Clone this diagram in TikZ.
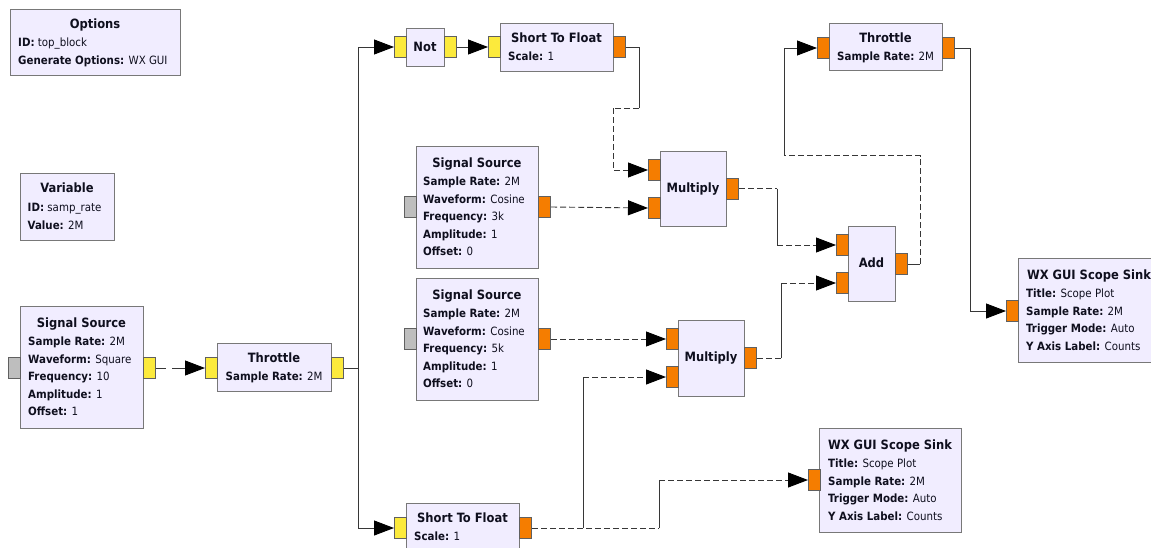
\documentclass[tikz,border=0pt]{standalone}
\usepackage{fontspec}
\setmainfont{DejaVu Sans Condensed}
\usetikzlibrary{arrows.meta}

\definecolor{blkfill}{RGB}{241,237,255}
\definecolor{blkline}{RGB}{120,120,120}
\definecolor{portorange}{RGB}{245,125,0}
\definecolor{portyellow}{RGB}{252,234,60}
\definecolor{portgray}{RGB}{190,190,190}
\definecolor{wirecol}{RGB}{55,55,55}
\definecolor{txtcol}{RGB}{15,15,30}

\tikzset{
  blk/.style={draw=blkline, fill=blkfill, line width=1.2pt, inner sep=0pt, anchor=north west},
  port/.style={draw=blkline!80!black, line width=1pt, inner sep=0pt, minimum width=12pt, minimum height=21pt, anchor=north west},
  oport/.style={port, fill=portorange},
  yport/.style={port, fill=portyellow},
  gport/.style={port, fill=portgray},
  ttl/.style={font=\fontsize{12.8}{14}\selectfont\bfseries, text=txtcol, inner sep=0pt, anchor=base},
  prm/.style={font=\fontsize{11.4}{13}\selectfont, text=txtcol, inner sep=0pt, anchor=base west},
  wire/.style={draw=wirecol, line width=0.9pt},
  dwire/.style={wire, dash pattern=on 6pt off 3pt},
  tip/.style={-{Triangle[length=20pt,width=15pt,color=black]}},
}

\begin{document}
\begin{tikzpicture}[x=1pt,y=-1pt]
\useasboundingbox (0,0) rectangle (1151,547);
\fill[white] (0,0) rectangle (1151,547);
\clip (0,0) rectangle (1151,547);

% Options
\node[blk, minimum width=170pt, minimum height=66pt] (opt) at (10,9) {};
\node[ttl] (opt-t) at (95,28.5) {Options};
\node[prm] (opt-p1) at (18,46.5) {\textbf{ID:} top\_block};
\node[prm] (opt-p2) at (18,64) {\textbf{Generate Options:} WX GUI};

% Variable
\node[blk, minimum width=94pt, minimum height=67pt] (var) at (20,173) {};
\node[ttl] (var-t) at (67,192.5) {Variable};
\node[prm] (var-p1) at (27.5,211.5) {\textbf{ID:} samp\_rate};
\node[prm] (var-p2) at (27.5,229) {\textbf{Value:} 2M};

% Signal Source (square)
\node[blk, minimum width=123pt, minimum height=122pt] (ss1) at (20,306) {};
\node[ttl] (ss1-t) at (81.5,327) {Signal Source};
\node[prm] (ss1-p1) at (28,345.5) {\textbf{Sample Rate:} 2M};
\node[prm] (ss1-p2) at (28,363) {\textbf{Waveform:} Square};
\node[prm] (ss1-p3) at (28,380.5) {\textbf{Frequency:} 10};
\node[prm] (ss1-p4) at (28,398) {\textbf{Amplitude:} 1};
\node[prm] (ss1-p5) at (28,415.5) {\textbf{Offset:} 1};
\node[gport] (ss1-in) at (8,357) {};
\node[yport] (ss1-out) at (143,357) {};

% Throttle
\node[blk, minimum width=114pt, minimum height=48pt] (thr1) at (217,343) {};
\node[ttl] (thr1-t) at (274,362.5) {Throttle};
\node[prm] (thr1-p1) at (225.5,380) {\textbf{Sample Rate:} 2M};
\node[yport] (thr1-in) at (205,357) {};
\node[yport] (thr1-out) at (331,357) {};

% Not
\node[blk, minimum width=38pt, minimum height=38pt] (not) at (406,28) {};
\node[ttl] (not-t) at (425,51.5) {Not};
\node[yport] (not-in) at (394,36) {};
\node[yport] (not-out) at (444,36) {};

% Short To Float (upper)
\node[blk, minimum width=113pt, minimum height=48pt] (stf1) at (500,23) {};
\node[ttl] (stf1-t) at (556.5,42.5) {Short To Float};
\node[prm] (stf1-p1) at (508,60) {\textbf{Scale:} 1};
\node[yport] (stf1-in) at (488,36) {};
\node[oport] (stf1-out) at (613,36) {};

% Signal Source (3k cosine)
\node[blk, minimum width=122pt, minimum height=122pt] (ss2) at (416,146) {};
\node[ttl] (ss2-t) at (477,167.5) {Signal Source};
\node[prm] (ss2-p1) at (423,185.7) {\textbf{Sample Rate:} 2M};
\node[prm] (ss2-p2) at (423,203.2) {\textbf{Waveform:} Cosine};
\node[prm] (ss2-p3) at (423,220.7) {\textbf{Frequency:} 3k};
\node[prm] (ss2-p4) at (423,238.2) {\textbf{Amplitude:} 1};
\node[prm] (ss2-p5) at (423,255.7) {\textbf{Offset:} 0};
\node[gport] (ss2-in) at (404,196) {};
\node[oport] (ss2-out) at (538,196) {};

% Signal Source (5k cosine)
\node[blk, minimum width=122pt, minimum height=122pt] (ss3) at (416,278) {};
\node[ttl] (ss3-t) at (477,299.4) {Signal Source};
\node[prm] (ss3-p1) at (423,317.7) {\textbf{Sample Rate:} 2M};
\node[prm] (ss3-p2) at (423,335.2) {\textbf{Waveform:} Cosine};
\node[prm] (ss3-p3) at (423,352.7) {\textbf{Frequency:} 5k};
\node[prm] (ss3-p4) at (423,370.2) {\textbf{Amplitude:} 1};
\node[prm] (ss3-p5) at (423,387.7) {\textbf{Offset:} 0};
\node[gport] (ss3-in) at (404,328) {};
\node[oport] (ss3-out) at (538,328) {};

% Multiply (upper)
\node[blk, minimum width=66pt, minimum height=75pt] (mul1) at (660,151) {};
\node[ttl] (mul1-t) at (693,192.5) {Multiply};
\node[oport] (mul1-in0) at (648,159) {};
\node[oport] (mul1-in1) at (648,197) {};
\node[oport] (mul1-out) at (726,177.5) {};

% Multiply (lower)
\node[blk, minimum width=66pt, minimum height=76pt] (mul2) at (678,320) {};
\node[ttl] (mul2-t) at (711,361.5) {Multiply};
\node[oport] (mul2-in0) at (666,328) {};
\node[oport] (mul2-in1) at (666,366) {};
\node[oport] (mul2-out) at (744,347) {};

% Add
\node[blk, minimum width=47pt, minimum height=75pt] (add) at (848,226) {};
\node[ttl] (add-t) at (871.5,267.5) {Add};
\node[oport] (add-in0) at (836,234) {};
\node[oport] (add-in1) at (836,272) {};
\node[oport] (add-out) at (895,253) {};

% Throttle (float)
\node[blk, minimum width=113pt, minimum height=47pt] (thr2) at (829,23) {};
\node[ttl] (thr2-t) at (885.5,42.5) {Throttle};
\node[prm] (thr2-p1) at (837,60) {\textbf{Sample Rate:} 2M};
\node[oport] (thr2-in) at (817,37) {};
\node[oport] (thr2-out) at (942,37) {};

% WX GUI Scope Sink (right)
\node[blk, minimum width=142pt, minimum height=104pt] (wx1) at (1018,258) {};
\node[ttl] (wx1-t) at (1089,279) {WX GUI Scope Sink};
\node[prm] (wx1-p1) at (1026,297.7) {\textbf{Title:} Scope Plot};
\node[prm] (wx1-p2) at (1026,315.3) {\textbf{Sample Rate:} 2M};
\node[prm] (wx1-p3) at (1026,332.9) {\textbf{Trigger Mode:} Auto};
\node[prm] (wx1-p4) at (1026,350.5) {\textbf{Y Axis Label:} Counts};
\node[oport] (wx1-in) at (1006,300) {};

% WX GUI Scope Sink (bottom)
\node[blk, minimum width=142pt, minimum height=104pt] (wx2) at (819,428) {};
\node[ttl] (wx2-t) at (890,449) {WX GUI Scope Sink};
\node[prm] (wx2-p1) at (828,467.5) {\textbf{Title:} Scope Plot};
\node[prm] (wx2-p2) at (828,485) {\textbf{Sample Rate:} 2M};
\node[prm] (wx2-p3) at (828,502.5) {\textbf{Trigger Mode:} Auto};
\node[prm] (wx2-p4) at (828,520) {\textbf{Y Axis Label:} Counts};
\node[oport] (wx2-in) at (808,469) {};

% Short To Float (lower)
\node[blk, minimum width=113pt, minimum height=48pt] (stf2) at (406,503) {};
\node[ttl] (stf2-t) at (462.5,522.5) {Short To Float};
\node[prm] (stf2-p1) at (414,540) {\textbf{Scale:} 1};
\node[yport] (stf2-in) at (394,517) {};
\node[oport] (stf2-out) at (519,517) {};

% ---- connections ----
\draw[wire, tip, dash pattern=on 10pt off 6pt on 60pt off 1pt] (ss1-out.east) -- (thr1-in.west);
\draw[wire, tip] (thr1-out.east) -- ++(14,0) |- (not-in.west);
\draw[wire, tip] (thr1-out.east) -- ++(14,0) |- (stf2-in.west);
\draw[wire, tip] (not-out.east) -- (stf1-in.west);

\draw[wire] (stf1-out.east) -- ++(13,0) -- ++(0,61) coordinate (d2);
\draw[dwire] (d2) -- ++(-26,0) coordinate (d3);
\draw[dwire, tip] (d3) |- (mul1-in0.west);

\draw[dwire, tip] (ss2-out.east) -- (mul1-in1.west);
\draw[dwire, tip] (ss3-out.east) -- (mul2-in0.west);

\path (stf2-out.east) -- ++(51,0) coordinate (g1);
\draw[dwire] (stf2-out.east) -- ++(127,0) coordinate (h1);
\draw[wire] (g1) -- (g1 |- mul2-in1) coordinate (g2);
\draw[dwire, tip] (g2) -- (mul2-in1.west);
\draw[wire] (h1) -- (h1 |- wx2-in) coordinate (h2);
\draw[dwire, tip] (h2) -- (wx2-in.west);

\draw[dwire] (mul1-out.east) -- ++(38,0) coordinate (i1);
\draw[wire] (i1) -- (i1 |- add-in0) coordinate (i2);
\draw[dwire, tip] (i2) -- (add-in0.west);

\draw[dwire] (mul2-out.east) -- ++(24,0) coordinate (j1);
\draw[wire] (j1) -- (j1 |- add-in1) coordinate (j2);
\draw[dwire, tip] (j2) -- (add-in1.west);

\draw[wire] (add-out.east) -- ++(12,0) coordinate (k1);
\draw[dwire] (k1) -- ++(0,-108.5) -- ++(-136,0) coordinate (k3);
\draw[wire, tip] (k3) |- (thr2-in.west);

\draw[wire, tip] (thr2-out.east) -- ++(15,0) |- (wx1-in.west);
\end{tikzpicture}
\end{document}
